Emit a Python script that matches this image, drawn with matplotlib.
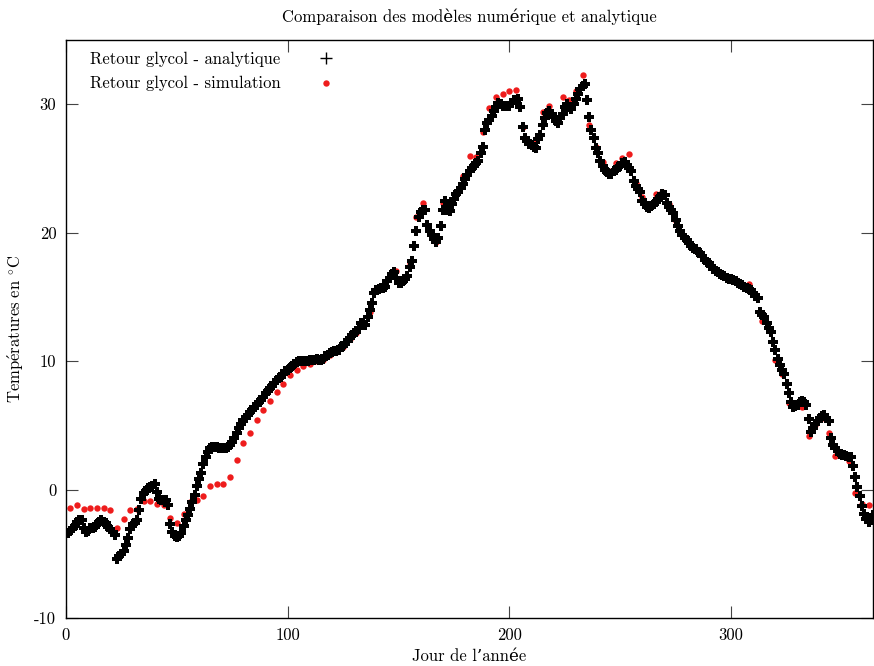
import numpy as np
import matplotlib
matplotlib.use('Agg')
import matplotlib.pyplot as plt
from matplotlib.lines import Line2D

# analytique : une valeur par jour (jours 1..365)
jours_ana = np.arange(1, 366)
t_ana = [
    -3.4, -3.2, -3.0, -2.8, -2.5, -2.4, -2.4, -3.0, -3.3, -3.2,
    -3.0, -3.0, -2.9, -2.7, -2.5, -2.35, -2.5, -2.6, -2.9, -3.1,
    -3.3, -3.5, -5.4, -5.2, -5.0, -4.8, -4.3, -3.8, -3.1, -2.7,
    -2.6, -2.4, -1.6, -0.7, -0.3, -0.1, 0.1, 0.2, 0.3, 0.4,
    -0.2, -0.7, -0.8, -0.8, -0.8, -1.2, -2.7, -3.3, -3.6, -3.7,
    -3.6, -3.4, -2.8, -2.4, -2.0, -1.5, -1.0, -0.4, 0.3, 0.8,
    1.3, 2.0, 2.5, 2.9, 3.2, 3.3, 3.3, 3.3, 3.2, 3.2,
    3.2, 3.2, 3.3, 3.5, 3.7, 4.0, 4.4, 4.8, 5.1, 5.4,
    5.6, 5.8, 6.0, 6.2, 6.4, 6.6, 6.8, 7.0, 7.2, 7.5,
    7.7, 7.9, 8.1, 8.3, 8.5, 8.7, 8.8, 9.0, 9.2, 9.3,
    9.5, 9.6, 9.8, 9.9, 10.0, 10.0, 10.0, 10.0, 10.0, 10.1,
    10.1, 10.1, 10.2, 10.1, 10.1, 10.2, 10.4, 10.5, 10.6, 10.7,
    10.8, 10.8, 10.9, 11.1, 11.2, 11.4, 11.6, 11.8, 12.0, 12.2,
    12.3, 12.6, 13.0, 12.9, 12.8, 13.4, 14.0, 14.5, 15.3, 15.5,
    15.6, 15.7, 15.7, 15.8, 16.2, 16.5, 16.8, 16.9, 16.5, 16.1,
    16.1, 16.2, 16.4, 16.6, 17.3, 17.8, 19.0, 20.1, 21.2, 21.6,
    21.8, 21.8, 20.6, 20.1, 19.8, 19.5, 19.3, 19.6, 20.5, 21.8,
    22.5, 21.8, 21.7, 22.2, 22.6, 23.0, 23.2, 23.5, 23.8, 24.2,
    24.5, 24.8, 25.0, 25.2, 25.4, 25.6, 26.2, 26.7, 28.0, 28.5,
    28.8, 29.1, 29.5, 29.8, 30.1, 30.0, 29.9, 29.9, 29.9, 29.9,
    30.1, 30.3, 30.3, 30.4, 29.8, 28.2, 27.4, 27.1, 26.9, 26.8,
    26.7, 26.6, 27.3, 27.6, 28.4, 28.9, 29.3, 29.5, 29.2, 29.0,
    28.7, 28.5, 28.9, 29.2, 29.8, 30.0, 29.8, 29.6, 30.0, 30.4,
    30.8, 31.2, 31.4, 31.6, 30.3, 29.0, 28.0, 27.4, 26.6, 26.2,
    25.6, 25.2, 24.9, 24.7, 24.6, 24.6, 24.8, 24.9, 25.1, 25.2,
    25.4, 25.5, 25.3, 25.0, 24.8, 24.0, 23.6, 23.4, 23.2, 22.5,
    22.3, 22.0, 21.9, 22.1, 22.2, 22.4, 22.6, 22.8, 23.0, 22.9,
    22.3, 22.0, 21.8, 21.5, 21.0, 20.5, 20.1, 19.8, 19.6, 19.4,
    19.2, 19.0, 18.8, 18.7, 18.5, 18.4, 18.2, 17.9, 17.7, 17.6,
    17.4, 17.2, 17.0, 16.9, 16.8, 16.7, 16.6, 16.5, 16.4, 16.4,
    16.3, 16.2, 16.1, 16.0, 15.9, 15.8, 15.7, 15.6, 15.5, 15.3,
    15.1, 14.9, 13.8, 13.6, 13.4, 13.0, 12.6, 12.3, 11.5, 10.9,
    10.2, 9.7, 9.3, 9.0, 8.2, 7.5, 6.8, 6.4, 6.5, 6.6,
    6.8, 6.9, 6.8, 6.6, 5.5, 4.5, 4.8, 5.1, 5.3, 5.6,
    5.7, 5.8, 5.6, 5.3, 4.0, 3.5, 3.2, 3.0, 2.8, 2.7,
    2.7, 2.6, 2.5, 2.5, 1.8, 1.0, 0.2, -0.5, -1.3, -1.9,
    -2.3, -2.5, -2.4, -2.0, -2.2,
]

# simulation : un point tous les 3 jours
jours_sim = np.arange(2, 363, 3)
t_sim = [
    -1.4, -1.2, -1.5, -1.4, -1.4, -1.4, -1.6, -3.0, -2.3, -1.6,
    -1.5, -0.9, -0.9, -1.1, -1.2, -2.2, -2.6, -1.9, -1.0, -0.8,
    -0.5, 0.25, 0.4, 0.45, 1.0, 2.3, 3.6, 4.4, 5.4, 6.2,
    6.9, 7.6, 8.2, 8.9, 9.3, 9.6, 9.8, 10.0, 10.1, 10.5,
    10.7, 11.1, 11.7, 12.2, 12.8, 13.8, 15.6, 15.8, 16.6, 17.0,
    16.2, 17.6, 21.2, 22.3, 20.0, 19.3, 22.3, 22.1, 23.2, 24.4,
    26.0, 25.9, 27.8, 29.7, 30.6, 30.8, 31.0, 31.1, 28.2, 27.0,
    27.3, 29.4, 29.9, 28.9, 30.6, 30.3, 31.0, 32.3, 28.4, 26.7,
    25.5, 24.8, 25.4, 25.8, 26.1, 23.9, 22.8, 22.0, 23.0, 23.2,
    22.2, 20.9, 19.8, 19.2, 18.7, 18.2, 17.6, 17.1, 16.7, 16.5,
    16.3, 16.0, 16.0, 15.2, 13.1, 12.5, 10.1, 9.0, 6.7, 6.5,
    6.4, 4.2, 5.0, 5.6, 4.4, 2.6, 2.6, 2.2, -0.3, -1.1,
    -1.2,
]

y_ticks = [-10, 0, 10, 20, 30]
x_ticks = [0, 100, 200, 300]

plt.rcParams['font.family'] = ['cmr10', 'DejaVu Serif']
plt.rcParams['mathtext.fontset'] = 'cm'
plt.rcParams['axes.unicode_minus'] = False
plt.rcParams['axes.formatter.use_mathtext'] = False

fig = plt.figure(figsize=(8.74, 6.66), dpi=100)
ax = fig.add_axes([66 / 874, 48 / 666, 807 / 874, 578 / 666])

ax.plot(jours_sim, t_sim, linestyle='none', marker='o', markersize=4.6,
        color='#ee1c1c', markeredgewidth=0, zorder=2)
ax.plot(jours_ana, t_ana, linestyle='none', marker='P', markersize=7,
        color='black', markeredgewidth=0, zorder=3)

ax.set_xlim(0, 364)
ax.set_ylim(-10, 35)
ax.set_xticks(x_ticks)
ax.set_yticks(y_ticks)
ax.tick_params(direction='in', length=8.5, width=0.8, top=True, right=True,
               labelsize=12, pad=7, color='#444444')
for s in ax.spines.values():
    s.set_linewidth(1.0)

ax.set_title('Comparaison des modèles numérique et analytique', fontsize=12, pad=13)
ax.set_xlabel('Jour de l’année', fontsize=12, labelpad=4)
ax.set_ylabel(r'$\mathrm{Temp\acute{e}ratures\ en\ }^{\circ}\mathrm{C}$', fontsize=12, labelpad=6)

handles = [
    Line2D([], [], linestyle='none', marker='+', markersize=9, markeredgewidth=1.0, color='black'),
    Line2D([], [], linestyle='none', marker='o', markersize=4.6, markeredgewidth=0, color='#ee1c1c'),
]
ax.legend(handles, ['Retour glycol - analytique', 'Retour glycol - simulation'],
          loc='upper left', bbox_to_anchor=(0.015, 1.0), frameon=False,
          markerfirst=False, fontsize=12, handlelength=1.5, handletextpad=2.0,
          labelspacing=0.55, borderaxespad=0.3)

fig.savefig('out.png', dpi=100)
